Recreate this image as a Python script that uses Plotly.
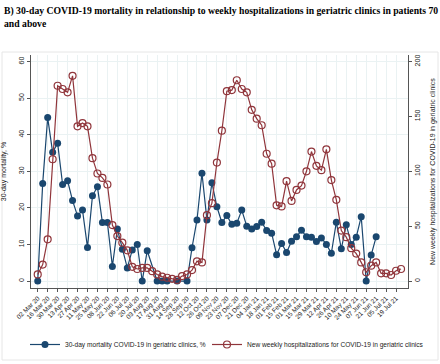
import pandas as pd
import plotly.graph_objects as go

start_week = "2020-03-02"
n_weeks = 74
weeks = pd.date_range(start_week, periods=n_weeks, freq="7D")
tick_dates = pd.date_range(start_week, "2021-07-19", freq="14D")

mortality = [0, 26.7, 44.7, 35.2, 37.7, 26.4, 27.4, 22.0, 17.8, 19.4,
             9.2, 23.3, 25.8, 16.0, 16.0, 4.0, 14.2, 8.7, 3.6, 8.5,
             10.0, 0, 8.3, None, 0, 0, 0, None, 0, None,
             0, 9.1, 16.7, 29.5, 16.7, 26.9, 20.3, 16.0, 17.9, 15.5,
             15.8, 19.4, 15.0, 14.2, 14.9, 16.1, 13.8, 13.1, 7.2, 10.3,
             7.8, 10.9, 12.1, 13.9, 12.1, 12.0, 10.8, 11.8, 10.0, 7.6,
             16.1, 8.8, 15.4, 10.0, 12.0, 17.6, 0, 7.1, 12.1,
             None, None, None, None, None]

hospitalizations = [6, 15, 38, 111, 178, 175, 172, 187, 141, 144,
                    141, 112, 98, 94, 88, 51, 41, 35, 28, 13,
                    11, 12, 12, 9, 6, 4, 3, 2, 1, 4.5,
                    6, 10, 18, 17, 60, 71, 108, 137, 173, 174,
                    183, 175, 172, 156, 148, 142, 116, 107, 69, 68,
                    91, 73, 83, 87, 100, 118, 105, 101, 120, 92,
                    74, 46, 40, 30, 25, 17, 8, 14, 17, 7,
                    7, 5.5, 9.4, 11]

left_ticks = [0, 10, 20, 30, 40, 50, 60]
right_ticks = [0, 50, 100, 150, 200]
tick_labels = [d.strftime("%d %b %y") for d in tick_dates]

title_text = ("B) 30-day COVID-19 mortality in relationship to weekly hospitalizations in geriatric clinics in patients 70"
              "<br>and above")
name_mort = "30-day mortality COVID-19 in geriatric clinics, %"
name_hosp = "New weekly hospitalizations for COVID-19 in geriatric clinics"

BLUE = "#1A476F"
RED = "#90353B"
GRID = "#EAF2F3"
AX = "#555555"

PW, PH = 377, 233  # plot area size in px

fig = go.Figure()
fig.add_trace(go.Scatter(
    x=weeks, y=mortality, name=name_mort, mode="lines+markers",
    connectgaps=True, legend="legend",
    line=dict(color=BLUE, width=1.2),
    marker=dict(symbol="circle", size=7, color=BLUE),
))
fig.add_trace(go.Scatter(
    x=weeks, y=hospitalizations, name=name_hosp, mode="lines+markers",
    yaxis="y2", legend="legend2",
    line=dict(color=RED, width=1.2),
    marker=dict(symbol="circle-open", size=7, color=RED, line=dict(width=1.2)),
))

x0 = pd.Timestamp(start_week) - pd.Timedelta(days=7 * 1.35)
x1 = pd.Timestamp(start_week) + pd.Timedelta(days=7 * 74.4)

leg_common = dict(orientation="h", yanchor="top", y=-(330 - 288) / PH,
                  font=dict(size=6.6, color="#222222"), itemwidth=30,
                  bgcolor="rgba(0,0,0,0)", xanchor="left")

fig.update_layout(
    width=440, height=364,
    margin=dict(l=31, r=32, t=55, b=76, autoexpand=False),
    paper_bgcolor="white", plot_bgcolor="white",
    font=dict(family="Liberation Sans, Arial, sans-serif", size=7, color="#222222"),
    showlegend=True,
    legend=dict(leg_common, x=(25 - 31) / PW),
    legend2=dict(leg_common, x=(207 - 31) / PW),
    xaxis=dict(
        type="date", range=[x0, x1], automargin=False,
        tickvals=list(tick_dates), ticktext=tick_labels,
        tickangle=-45, tickfont=dict(size=6.5),
        showgrid=True, gridcolor=GRID, gridwidth=1,
        showline=True, linecolor=AX, linewidth=1,
        ticks="outside", ticklen=3, tickcolor=AX,
        zeroline=False,
    ),
    yaxis=dict(
        range=[-1.9, 61.8], tickvals=left_ticks, tickangle=-90, automargin=False,
        tickfont=dict(size=7),
        title=dict(text="30-day mortality, %", font=dict(size=7), standoff=11),
        showgrid=True, gridcolor=GRID, gridwidth=1,
        showline=True, linecolor=AX, linewidth=1,
        ticks="outside", ticklen=3, tickcolor=AX, zeroline=False,
    ),
    yaxis2=dict(
        overlaying="y", side="right", automargin=False,
        range=[-1.9 * 10 / 3, 61.8 * 10 / 3], tickvals=right_ticks, tickangle=-90,
        tickfont=dict(size=7),
        title=dict(text=name_hosp, font=dict(size=7), standoff=9),
        showgrid=False,
        showline=True, linecolor=AX, linewidth=1,
        ticks="outside", ticklen=3, tickcolor=AX, zeroline=False,
    ),
    annotations=[dict(
        text=title_text, xref="paper", yref="paper",
        x=-29 / PW, y=1 + 52 / PH, xanchor="left", yanchor="top", align="left",
        showarrow=False,
        font=dict(family="Liberation Serif, Times New Roman, serif", size=9.7,
                  color="black", weight="bold"),
    )],
    shapes=[dict(type="rect", xref="paper", yref="paper",
                 x0=-29 / PW, x1=1 + 30 / PW, y0=-72 / PH, y1=1 + 3 / PH,
                 line=dict(color="#E6E6E6", width=1), fillcolor="rgba(0,0,0,0)",
                 layer="below")],
)

fig.write_html("out.html",
               config={"displayModeBar": False},
               post_script="document.body.style.margin='0';document.body.style.padding='0';")
